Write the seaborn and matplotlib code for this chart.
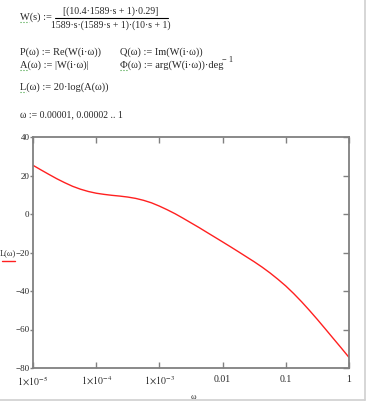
import numpy as np
import pandas as pd
import matplotlib
matplotlib.use("Agg")
import matplotlib.pyplot as plt
from matplotlib.lines import Line2D
import seaborn as sns

# values (omega, L in dB)
omega = [1e-5, 1.33e-5, 1.78e-5, 2.37e-5, 3.16e-5, 4.22e-5, 5.62e-5, 7.5e-5,
         1e-4, 1.33e-4, 1.78e-4, 2.37e-4, 3.16e-4, 4.22e-4, 5.62e-4, 7.5e-4,
         1e-3, 1.33e-3, 1.78e-3, 2.37e-3, 3.16e-3, 4.22e-3, 5.62e-3, 7.5e-3,
         1e-2, 1.33e-2, 1.78e-2, 2.37e-2, 3.16e-2, 4.22e-2, 5.62e-2, 7.5e-2,
         0.1, 0.133, 0.178, 0.237, 0.316, 0.422, 0.562, 0.75, 1.0]
L_db = [25.3, 22.95, 20.6, 18.35, 16.3, 14.4, 12.9, 11.7,
        10.8, 10.2, 9.7, 9.3, 8.8, 8.1, 7.1, 5.8,
        4.1, 2.2, 0.1, -2.2, -4.6, -7.0, -9.5, -12.0,
        -14.5, -17.0, -19.6, -22.2, -24.8, -27.6, -30.6, -33.9,
        -37.4, -41.3, -45.6, -50.1, -54.8, -59.7, -64.6, -69.5, -74.5]

y_ticks = [40, 20, 0, -20, -40, -60, -80]
y_labels = ["40", "20", "0", "\u221220", "\u221240", "\u221260", "\u221280"]
x_ticks = [1e-5, 1e-4, 1e-3, 1e-2, 0.1, 1]
x_labels = [r"$1\!\times\!10^{-5}$", r"$1\!\times\!10^{-4}$", r"$1\!\times\!10^{-3}$",
            "0.01", "0.1", "1"]

sns.set_theme(style="white")
plt.rcParams['font.family'] = ['Liberation Serif', 'DejaVu Serif']
plt.rcParams['mathtext.fontset'] = 'stix'

df = pd.DataFrame({'omega': omega, 'L': L_db})

W, H = 367, 404
fig = plt.figure(figsize=(W / 100, H / 100), dpi=100)
ax = fig.add_axes([33 / W, 1 - 368 / H, (349 - 33) / W, (368 - 137) / H])

sns.lineplot(data=df, x='omega', y='L', ax=ax, color='#ff2020', linewidth=1.0)
ax.set_xscale('log')
ax.set_xlim(1e-5, 1)
ax.set_ylim(-80, 40)
ax.set_xticks(x_ticks)
ax.set_xticklabels(x_labels)
ax.set_yticks(y_ticks)
ax.set_yticklabels(y_labels)
ax.minorticks_off()
ax.set_xlabel('')
ax.set_ylabel('')
for s in ax.spines.values():
    s.set_color('#808080')
    s.set_linewidth(1.3)
ax.tick_params(axis='x', direction='in', top=True, bottom=True, length=4,
               width=1, color='#808080', labelsize=7, pad=5)
ax.tick_params(axis='y', direction='out', left=True, length=2.5, width=1,
               color='#808080', labelsize=6.5, pad=0)
ax2 = ax.secondary_yaxis('right')
ax2.set_yticks(y_ticks)
ax2.tick_params(direction='in', length=4, width=1, color='#808080', labelright=False)
ax2.spines['right'].set_visible(False)

# axis labels, Mathcad style
fig.text(193 / W, 1 - 397 / H, "\u03c9", fontsize=6, ha='center', va='center')
fig.text(0, 1 - 253 / H, "L(\u03c9)", fontsize=6, ha='left', va='center')
fig.add_artist(Line2D([2 / W, 15 / W], [1 - 261 / H, 1 - 261 / H], color='#ff2020', lw=1))

# formulas above the plot
fs = 7.5
fig.text(20 / W, 1 - 17 / H, "W(s) :=", fontsize=fs, va='center')
fig.text(111 / W, 1 - 11 / H, "[(10.4\u00b71589\u00b7s + 1)\u00b70.29]", fontsize=7, ha='center', va='center')
fig.add_artist(Line2D([55 / W, 168 / W], [1 - 18 / H, 1 - 18 / H], color='black', lw=0.8))
fig.text(111 / W, 1 - 25 / H, "1589\u00b7s\u00b7(1589\u00b7s + 1)\u00b7(10\u00b7s + 1)", fontsize=7, ha='center', va='center')
fig.text(20 / W, 1 - 52 / H, "P(\u03c9) := Re(W(i\u00b7\u03c9))", fontsize=fs, va='center')
fig.text(120 / W, 1 - 52 / H, "Q(\u03c9) := Im(W(i\u00b7\u03c9))", fontsize=fs, va='center')
fig.text(20 / W, 1 - 65 / H, "A(\u03c9) := |W(i\u00b7\u03c9)|", fontsize=fs, va='center')
fig.text(120 / W, 1 - 65 / H, "\u03a6(\u03c9) := arg(W(i\u00b7\u03c9))\u00b7deg", fontsize=fs, va='center')
fig.text(222 / W, 1 - 60 / H, "\u2212 1", fontsize=6, va='center')
fig.text(20 / W, 1 - 87 / H, "L(\u03c9) := 20\u00b7log(A(\u03c9))", fontsize=fs, va='center')
fig.text(20 / W, 1 - 115 / H, "\u03c9 := 0.00001, 0.00002 .. 1", fontsize=7, va='center')

# green underlines under defined names
for x0, x1, yy in [(20, 29, 22), (20, 27, 70), (120, 127, 70), (20, 26, 92)]:
    fig.add_artist(Line2D([x0 / W, x1 / W], [1 - yy / H, 1 - yy / H], color='#40a040', lw=0.8, ls=':'))

# screenshot border
fig.add_artist(Line2D([365 / W, 365 / W], [1 - 400 / H, 1], color='#d0d0d0', lw=1.2))
fig.add_artist(Line2D([0, 365 / W], [1 - 400 / H, 1 - 400 / H], color='#d0d0d0', lw=1.2))

fig.savefig('out.png', dpi=100)
